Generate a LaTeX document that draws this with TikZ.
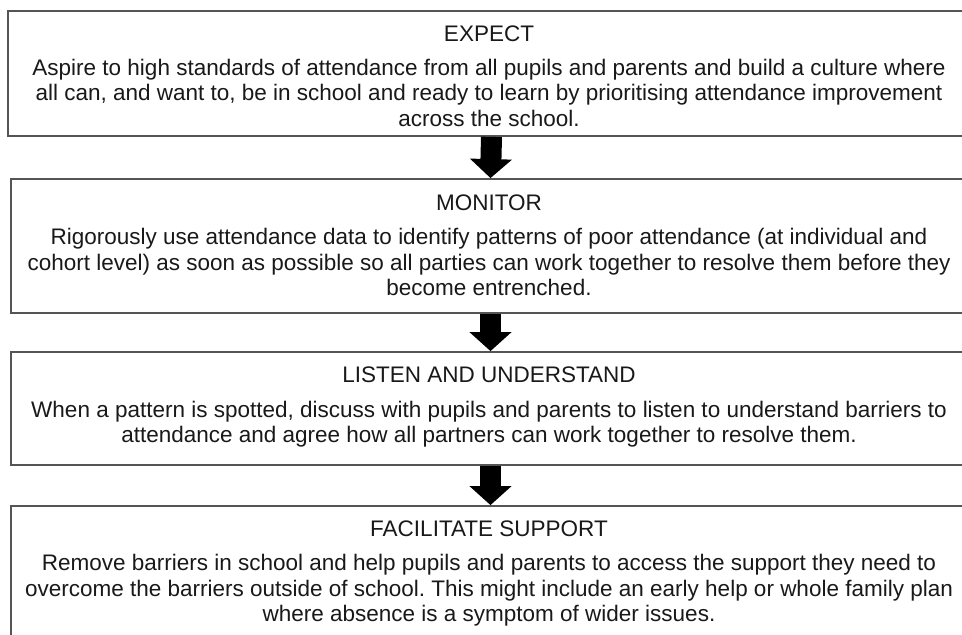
\documentclass[tikz,border=0pt]{standalone}
\usepackage{fontspec}
\setmainfont{Liberation Sans}
\usetikzlibrary{arrows.meta}
\definecolor{boxgray}{RGB}{85,85,85}
\definecolor{txt}{RGB}{25,25,25}
\frenchspacing
\begin{document}
\begin{tikzpicture}[x=1pt,y=-1pt,
  box/.style={draw=boxgray, line width=1.8pt, rectangle, inner sep=0pt, fill=white},
  ln/.style={font=\fontsize{22.5}{26}\selectfont\frenchspacing, text=txt, inner sep=0pt, anchor=base},
  flow/.style={line width=21pt, black, -{Triangle[width=41pt,length=19pt]}}]
\useasboundingbox (0,0) rectangle (962,635);
\fill[white] (0,0) rectangle (962,635);
\clip (0,0) rectangle (962,635);
% boxes
\node[box, minimum width=967pt, minimum height=125pt] (b1) at (491.5,73.5) {};
\node[box, minimum width=959pt, minimum height=134pt] (b2) at (490.5,246) {};
\node[box, minimum width=959pt, minimum height=113pt] (b3) at (490.5,408.5) {};
\node[box, minimum width=959pt, minimum height=154pt] (b4) at (490.5,583) {};
% arrows
\draw[flow] (b1.south) -- (b2.north);
\draw[flow] (b2.south) -- (b3.north);
\draw[flow] (b3.south) -- (b4.north);
% box 1 text
\node[ln] (t1) at (489,41) {EXPECT};
\node[ln] (t1a) at (489,75) {Aspire to high standards of attendance from all pupils and parents and build a culture where};
\node[ln] (t1b) at (489,100.5) {all can, and want to, be in school and ready to learn by prioritising attendance improvement};
\node[ln] (t1c) at (489,126) {across the school.};
% box 2 text
\node[ln] (t2) at (489,210) {MONITOR};
\node[ln] (t2a) at (489,244) {Rigorously use attendance data to identify patterns of poor attendance (at individual and};
\node[ln] (t2b) at (489,270) {cohort level) as soon as possible so all parties can work together to resolve them before they};
\node[ln] (t2c) at (489,295) {become entrenched.};
% box 3 text
\node[ln] (t3) at (489,382) {LISTEN AND UNDERSTAND};
\node[ln] (t3a) at (489,417) {When a pattern is spotted, discuss with pupils and parents to listen to understand barriers to};
\node[ln] (t3b) at (489,442) {attendance and agree how all partners can work together to resolve them.};
% box 4 text
\node[ln] (t4) at (489,536) {FACILITATE SUPPORT};
\node[ln] (t4a) at (489,570) {Remove barriers in school and help pupils and parents to access the support they need to};
\node[ln] (t4b) at (489,596) {overcome the barriers outside of school. This might include an early help or whole family plan};
\node[ln] (t4c) at (489,621) {where absence is a symptom of wider issues.};
\end{tikzpicture}
\end{document}
